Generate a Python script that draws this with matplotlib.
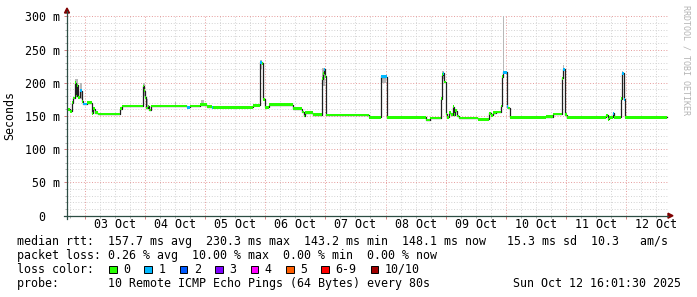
import numpy as np
import matplotlib
matplotlib.use('Agg')
import matplotlib.pyplot as plt
from matplotlib.patches import Rectangle, Polygon
from matplotlib.lines import Line2D

# figure size in pixels (dpi 100)
W, H = 697, 297

# median rtt as steps: start (day of October), rtt in ms, lost pings (of 10)
seg_start = [2.700, 2.750, 2.783, 2.800, 2.833, 2.850, 2.867, 2.883, 2.917, 2.950,
             2.967, 3.033, 3.117, 3.133, 3.167, 3.217, 3.583, 3.617, 3.967, 3.983,
             4.000, 4.017, 4.050, 4.067, 4.100, 4.700, 4.750, 4.917, 5.033, 5.117,
             5.133, 5.800, 5.917, 5.950, 5.967, 6.000, 6.067, 6.467, 6.617, 6.650,
             6.667, 6.800, 6.950, 6.967, 6.983, 7.000, 7.017, 7.733, 7.917, 7.933,
             8.017, 8.667, 8.733, 8.917, 8.933, 8.950, 8.967, 9.000, 9.017, 9.050,
             9.083, 9.117, 9.133, 9.150, 9.183, 9.217, 9.533, 9.717, 9.750, 9.783,
             9.833, 9.917, 9.933, 9.950, 10.017, 10.033, 10.067, 10.667, 10.783, 10.933,
             10.950, 10.983, 11.017, 11.667, 11.700, 11.717, 11.783, 11.800, 11.917, 11.933,
             11.967, 11.983]
seg_rtt = [160, 157, 170, 177, 200, 180, 196, 178, 188, 172,
           168, 170, 154, 161, 155, 153, 161, 165, 195, 188,
           178, 162, 165, 159, 165, 163, 165, 167, 164, 163,
           163, 166, 231, 229, 175, 163, 167, 161, 156, 150,
           155, 152, 206, 214, 220, 210, 151.5, 148, 185, 209,
           148, 144, 147, 176, 212, 214, 201, 153, 148, 155,
           152, 164, 152, 158, 150, 147, 145, 154, 151, 155,
           156, 165, 209, 216, 164, 162, 148, 149, 153, 207,
           220, 152, 148, 151, 145, 148, 154, 148, 176, 214,
           175, 148]
seg_loss = [0, 0, 0, 0, 0, 0, 0, 0, 1, 0,
            1, 0, 0, 0, 0, 0, 0, 0, 0, 0,
            0, 0, 0, 0, 0, 1, 0, 0, 0, 1,
            0, 0, 1, 0, 0, 0, 0, 0, 0, 0,
            0, 0, 0, 0, 1, 0, 0, 0, 0, 1,
            0, 0, 0, 0, 0, 1, 0, 0, 0, 0,
            0, 0, 0, 0, 0, 0, 0, 0, 0, 0,
            0, 0, 0, 1, 1, 0, 0, 0, 0, 0,
            1, 0, 0, 0, 0, 0, 1, 0, 0, 1,
            1, 0]
t_end = 12.683

# smoke (spread of the pings) where it is visible
smoke_start = [2.833, 2.917, 3.967, 4.017, 4.500, 4.933, 5.917, 6.950, 7.933, 8.933, 9.950, 10.017, 10.950, 11.933]
smoke_end = [2.883, 2.950, 4.000, 4.050, 4.517, 4.983, 5.950, 7.000, 8.000, 8.967, 9.967, 10.033, 10.967, 11.950]
smoke_lo = [180, 175, 180, 160, 165, 167, 220, 195, 200, 205, 210, 160, 212, 205]
smoke_hi = [205, 200, 200, 175, 171, 174, 235, 222, 212, 218, 310, 175, 226, 218]

day_ticks = [3, 4, 5, 6, 7, 8, 9, 10, 11, 12]
day_labels = ['03 Oct', '04 Oct', '05 Oct', '06 Oct', '07 Oct',
              '08 Oct', '09 Oct', '10 Oct', '11 Oct', '12 Oct']
y_ticks = [0, 50, 100, 150, 200, 250, 300]
y_labels = ['0  ', '50 m', '100 m', '150 m', '200 m', '250 m', '300 m']

loss_names = ['0', '1', '2', '3', '4', '5', '6-9', '10/10']
loss_colors = ['#26ff00', '#00b8ff', '#0059ff', '#7e00ff', '#ff00ff', '#ff5e00', '#ff0000', '#a00000']

stat_lines = [
    'median rtt:  157.7 ms avg  230.3 ms max  143.2 ms min  148.1 ms now   15.3 ms sd  10.3   am/s',
    'packet loss: 0.26 % avg  10.00 % max  0.00 % min  0.00 % now',
    'loss color:',
    'probe:       10 Remote ICMP Echo Pings (64 Bytes) every 80s',
]
stamp = 'Sun Oct 12 16:01:30 2025'

plt.rcParams['font.family'] = 'DejaVu Sans Mono'
FS = 8.4
AXIS_C = '#2c4d43'
ARROW_C = '#7f0000'


def fx(px):
    return px / W


def fy(py):
    return 1 - py / H


def loss_color(n):
    if n <= 5:
        return loss_colors[n]
    if n < 10:
        return loss_colors[6]
    return loss_colors[7]


fig = plt.figure(figsize=(W / 100, H / 100), dpi=100, facecolor='white')
x0, x1, y0, y1 = 67, 669, 215.7, 16.3
ax = fig.add_axes([fx(x0), fy(y0), fx(x1 - x0), (y0 - y1) / H])
ax.set_facecolor('white')
ax.set_xlim(2.700, 12.717)
ax.set_ylim(0, 300)
for s in ax.spines.values():
    s.set_visible(False)

# grid
ax.set_xticks(day_ticks)
ax.set_xticks(np.arange(2.75, 12.7, 0.25), minor=True)
ax.set_yticks(y_ticks)
ax.set_yticks(np.arange(0, 301, 10), minor=True)
ax.set_yticklabels(y_labels, fontsize=FS)
ax.set_xticklabels([])
ax.set_axisbelow(True)
ax.grid(which='minor', color='#d2d2d2', lw=0.7, linestyle=(0, (1, 1.8)))
ax.grid(which='major', color='#e59a9a', lw=0.7, linestyle=(0, (1, 1.8)))
ax.tick_params(which='major', length=2.5, width=0.7, color='#d08080', pad=2.8)
ax.tick_params(which='minor', length=1.5, width=0.7, color='#b0b0b0')

for d, lab in zip(day_ticks, day_labels):
    ax.text(d + 0.5, -0.043, lab, transform=ax.get_xaxis_transform(),
            ha='center', va='center', fontsize=FS)

# smoke
ax.bar(smoke_start, np.array(smoke_hi) - np.array(smoke_lo), bottom=smoke_lo,
       width=np.array(smoke_end) - np.array(smoke_start), align='edge',
       color='#b8b8b8', linewidth=0, zorder=2)

# median line and loss coloured band
t = np.append(seg_start, t_end)
v = np.append(seg_rtt, seg_rtt[-1])
ax.step(t, v, where='post', color='#202020', lw=0.9, zorder=3)
band = 2.1
ax.bar(seg_start, 2 * band, bottom=np.array(seg_rtt) - band, width=np.diff(t),
       align='edge', color=[loss_color(n) for n in seg_loss], linewidth=0, zorder=4)

# axes with arrows
fig.add_artist(Line2D([fx(x0), fx(x0)], [fy(y0 + 3), fy(11)], color=AXIS_C, lw=0.9))
fig.add_artist(Line2D([fx(x0 - 3), fx(668)], [fy(y0), fy(y0)], color=AXIS_C, lw=0.9))
fig.add_artist(Polygon([[fx(x0 - 2.5), fy(13)], [fx(x0 + 2.5), fy(13)], [fx(x0), fy(8)]],
                       closed=True, color=ARROW_C, transform=fig.transFigure))
fig.add_artist(Polygon([[fx(668), fy(y0 - 2.5)], [fx(668), fy(y0 + 2.5)], [fx(673), fy(y0)]],
                       closed=True, color=ARROW_C, transform=fig.transFigure))

fig.text(fx(10), fy(116), 'Seconds', rotation=90, ha='center', va='center', fontsize=FS)
fig.text(fx(686), fy(5), 'RRDTOOL / TOBI OETIKER', rotation=270, ha='center', va='top',
         fontsize=6, color='#b4b4b4')

# legend / stats
rows_y = [241.3, 255.3, 269.3, 283.3]
for line, ry in zip(stat_lines, rows_y):
    fig.text(fx(16.7), fy(ry), line, ha='left', va='center', fontsize=FS)
fig.text(fx(681), fy(rows_y[3]), stamp, ha='right', va='center', fontsize=FS)

box_x = 109
for name, col in zip(loss_names, loss_colors):
    fig.add_artist(Rectangle((fx(box_x), fy(273.3)), 7.6 / W, 7.8 / H, facecolor=col,
                             edgecolor='black', lw=0.7, transform=fig.transFigure))
    fig.text(fx(box_x + 14.3), fy(rows_y[2]), name, ha='left', va='center', fontsize=FS)
    box_x += 14.3 + 7.03 * (len(name) + 2)

fig.savefig('out.png', dpi=100, facecolor='white')
